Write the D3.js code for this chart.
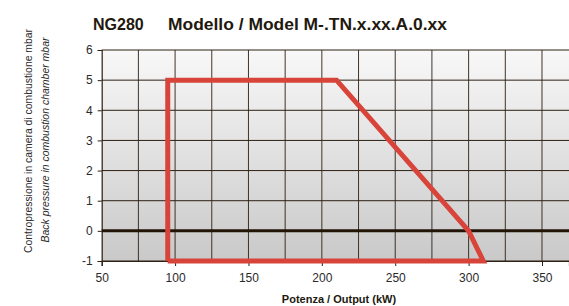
<!DOCTYPE html>
<html>
<head>
<meta charset="utf-8">
<script src="https://cdn.jsdelivr.net/npm/d3@7"></script>
<style>
  body { margin: 0; background: #fff; }
  svg { display: block; font-family: 'Liberation Sans', Arial, sans-serif; }
</style>
</head>
<body>
<svg width="569" height="306"></svg>
<script>
// operating envelope (kW, mbar)
const envelopeKw = [95, 95, 210, 300, 310, 95]
const envelopeMbar = [-1, 5, 5, 0, -1, -1]
const xTickLabels = [50, 100, 150, 200, 250, 300, 350]
const xGrid = [75, 100, 125, 150, 175, 200, 225, 250, 275, 300, 325, 350]
const yTickLabels = [-1, 0, 1, 2, 3, 4, 5, 6]

const svg = d3.select('svg')
const plotLeft = 101.7, plotRight = 569, plotTop = 50, plotBottom = 261

const x = d3.scaleLinear().domain([50, 368.4]).range([plotLeft, plotRight])
const y = d3.scaleLinear().domain([-1, 6]).range([plotBottom, plotTop])

const defs = svg.append('defs')
const grad = defs.append('linearGradient')
  .attr('id', 'bg').attr('x1', 0).attr('x2', 0).attr('y1', 0).attr('y2', 1)
grad.append('stop').attr('offset', '0%').attr('stop-color', '#f8f8f8')
grad.append('stop').attr('offset', '100%').attr('stop-color', '#c9c9c9')

svg.append('rect')
  .attr('x', plotLeft).attr('y', plotTop)
  .attr('width', plotRight - plotLeft).attr('height', plotBottom - plotTop)
  .attr('fill', 'url(#bg)')

const gridColor = '#2e2012'

// vertical grid
svg.append('g')
  .selectAll('line')
  .data(xGrid)
  .enter()
  .append('line')
  .attr('x1', d => x(d)).attr('x2', d => x(d))
  .attr('y1', plotTop).attr('y2', plotBottom)
  .attr('stroke', gridColor)
  .attr('stroke-opacity', 0.9)
  .attr('stroke-width', 1)

// horizontal grid
svg.append('g')
  .selectAll('line')
  .data(yTickLabels.filter(d => d !== 0))
  .enter()
  .append('line')
  .attr('x1', plotLeft).attr('x2', plotRight)
  .attr('y1', d => y(d)).attr('y2', d => y(d))
  .attr('stroke', gridColor)
  .attr('stroke-width', 1)

const fmt = d => String(d)

// y axis
const yAxis = svg.append('g')
  .attr('transform', `translate(${plotLeft},0)`)
  .call(d3.axisLeft(y).tickValues(yTickLabels).tickFormat(fmt).tickSize(4).tickPadding(5))
yAxis.select('.domain').attr('stroke', gridColor).attr('stroke-width', 1.2)
yAxis.selectAll('.tick line').attr('stroke', gridColor)
yAxis.selectAll('text')
  .attr('fill', '#2a2a2a')
  .style('font-size', '12px')
  .style('font-family', "'Liberation Sans', Arial, sans-serif")

// x axis
const xAxis = svg.append('g')
  .attr('transform', `translate(0,${plotBottom})`)
  .call(d3.axisBottom(x).tickValues(xTickLabels).tickFormat(fmt).tickSize(5).tickPadding(7))
xAxis.select('.domain').attr('stroke', gridColor).attr('stroke-width', 1.2)
xAxis.selectAll('.tick line').attr('stroke', gridColor)
xAxis.selectAll('text')
  .attr('fill', '#2a2a2a')
  .style('font-size', '12px')
  .style('font-family', "'Liberation Sans', Arial, sans-serif")

// zero line
svg.append('line')
  .attr('x1', plotLeft).attr('x2', plotRight)
  .attr('y1', y(0)).attr('y2', y(0))
  .attr('stroke', '#221407')
  .attr('stroke-width', 3)

// envelope
const pts = envelopeKw.map((d, i) => [x(d), y(envelopeMbar[i])])
svg.append('path')
  .attr('d', d3.line()(pts))
  .attr('fill', 'none')
  .attr('stroke', '#d8443a')
  .attr('stroke-width', 5)
  .attr('stroke-linejoin', 'miter')

// title
svg.append('text')
  .attr('x', 93).attr('y', 30)
  .attr('fill', '#22180e')
  .style('font-size', '16px').style('font-weight', 'bold')
  .text('NG280')
svg.append('text')
  .attr('x', 168).attr('y', 30)
  .attr('fill', '#22180e')
  .style('font-size', '16px').style('font-weight', 'bold')
  .attr('textLength', 279).attr('lengthAdjust', 'spacingAndGlyphs')
  .text('Modello / Model M-.TN.x.xx.A.0.xx')

// x title
svg.append('text')
  .attr('x', 339).attr('y', 303)
  .attr('text-anchor', 'middle')
  .attr('fill', '#22180e')
  .style('font-size', '11px').style('font-weight', 'bold')
  .text('Potenza / Output (kW)')

// y titles
svg.append('text')
  .attr('transform', 'translate(32,141) rotate(-90)')
  .attr('text-anchor', 'middle')
  .attr('fill', '#2a2a2a')
  .style('font-size', '11.5px')
  .attr('textLength', 224).attr('lengthAdjust', 'spacingAndGlyphs')
  .text('Contropressione in camera di combustione mbar')
svg.append('text')
  .attr('transform', 'translate(49,140) rotate(-90)')
  .attr('text-anchor', 'middle')
  .attr('fill', '#2a2a2a')
  .style('font-size', '11.5px').style('font-style', 'italic')
  .attr('textLength', 205).attr('lengthAdjust', 'spacingAndGlyphs')
  .text('Back pressure in combustion chamber mbar')
</script>
</body>
</html>
